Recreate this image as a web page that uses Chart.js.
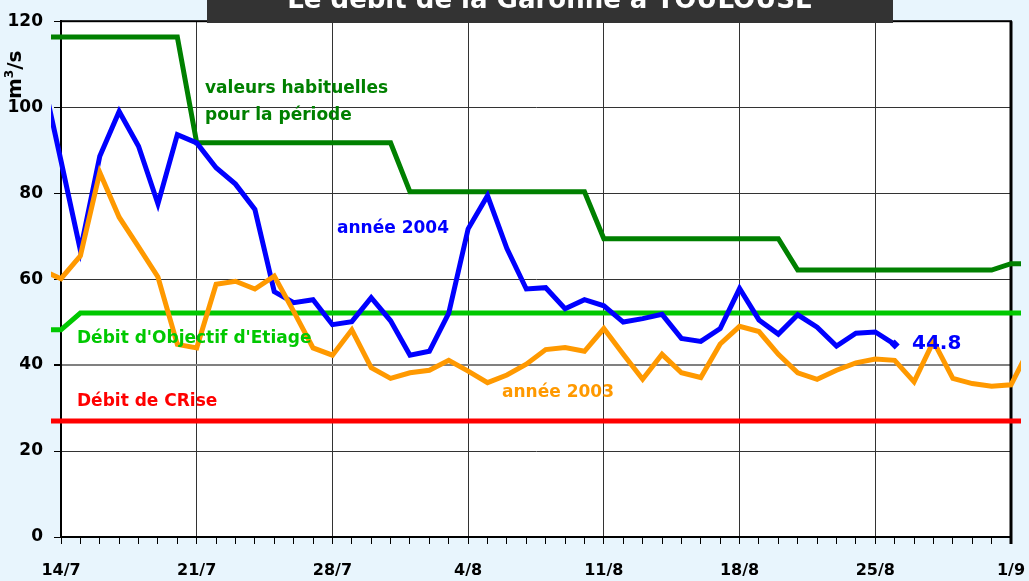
<!DOCTYPE html>
<html>
<head>
<meta charset="utf-8">
<script src="https://cdn.jsdelivr.net/npm/chart.js@4/dist/chart.umd.min.js"></script>
<style>
    html, body { margin: 0; padding: 0; background: #e8f5fd; }
    #garonneChart { display: block; }
</style>
</head>
<body>
<canvas id="garonneChart" width="1029" height="581"></canvas>
<script>
// one label per day, 13/7 and 2/9 only carry the line ends past the frame
const dates = [
    '13/7', '14/7', '15/7', '16/7', '17/7', '18/7', '19/7', '20/7', '21/7', '22/7',
    '23/7', '24/7', '25/7', '26/7', '27/7', '28/7', '29/7', '30/7', '31/7',
    '1/8', '2/8', '3/8', '4/8', '5/8', '6/8', '7/8', '8/8', '9/8', '10/8',
    '11/8', '12/8', '13/8', '14/8', '15/8', '16/8', '17/8', '18/8', '19/8', '20/8',
    '21/8', '22/8', '23/8', '24/8', '25/8', '26/8', '27/8', '28/8', '29/8', '30/8',
    '31/8', '1/9', '2/9'
];

const debit2004 = [
    108.1, 87.5, 66.7, 88.6, 99.0, 90.9, 77.5, 93.6, 91.7, 85.9,
    82.1, 76.2, 57.1, 54.5, 55.2, 49.4, 50.1, 55.7, 50.3,
    42.3, 43.2, 52.1, 71.7, 79.4, 67.1, 57.7, 58.0, 53.1, 55.2,
    53.8, 50.0, 50.8, 51.8, 46.2, 45.5, 48.5, 57.8, 50.5, 47.2,
    51.7, 48.8, 44.4, 47.4, 47.7, 44.8, null, null, null, null,
    null, null, null
];

const debit2003 = [
    62.1, 60.1, 65.4, 84.8, 74.4, 67.5, 60.5, 44.8, 44.0, 58.8,
    59.5, 57.7, 60.7, 52.5, 44.0, 42.3, 48.2, 39.4, 36.9,
    38.2, 38.8, 41.1, 38.6, 35.9, 37.7, 40.2, 43.6, 44.1, 43.2,
    48.5, 42.5, 36.7, 42.5, 38.2, 37.1, 44.9, 49.0, 47.8, 42.5,
    38.2, 36.7, 38.8, 40.5, 41.4, 41.1, 36.1, 45.5, 36.9, 35.7,
    35.1, 35.4, 44.2
];

const valeursHabituelles = [
    116.3, 116.3, 116.3, 116.3, 116.3, 116.3, 116.3, 116.3, 91.7, 91.7,
    91.7, 91.7, 91.7, 91.7, 91.7, 91.7, 91.7, 91.7, 91.7,
    80.3, 80.3, 80.3, 80.3, 80.3, 80.3, 80.3, 80.3, 80.3, 80.3,
    69.4, 69.4, 69.4, 69.4, 69.4, 69.4, 69.4, 69.4, 69.4, 69.4,
    62.1, 62.1, 62.1, 62.1, 62.1, 62.1, 62.1, 62.1, 62.1, 62.1,
    62.1, 63.6, 63.6
];

const objectifEtiage = [
    48.2, 48.2, 52.1, 52.1, 52.1, 52.1, 52.1, 52.1, 52.1, 52.1,
    52.1, 52.1, 52.1, 52.1, 52.1, 52.1, 52.1, 52.1, 52.1,
    52.1, 52.1, 52.1, 52.1, 52.1, 52.1, 52.1, 52.1, 52.1, 52.1,
    52.1, 52.1, 52.1, 52.1, 52.1, 52.1, 52.1, 52.1, 52.1, 52.1,
    52.1, 52.1, 52.1, 52.1, 52.1, 52.1, 52.1, 52.1, 52.1, 52.1,
    52.1, 52.1, 52.1
];

const debitCrise = [
    27, 27, 27, 27, 27, 27, 27, 27, 27, 27,
    27, 27, 27, 27, 27, 27, 27, 27, 27,
    27, 27, 27, 27, 27, 27, 27, 27, 27, 27,
    27, 27, 27, 27, 27, 27, 27, 27, 27, 27,
    27, 27, 27, 27, 27, 27, 27, 27, 27, 27,
    27, 27, 27
];

const yTicks = [0, 20, 40, 60, 80, 100, 120];

const FONT = 'DejaVu Sans';
const firstDay = dates.indexOf('14/7');
const lastDay = dates.indexOf('1/9');
const lastBlue = debit2004.filter(v => v !== null).length - 1;
// lines run half a day past the frame on both sides
const overhang = { left: 10, right: 10, top: 0, bottom: 0 };

const decorPlugin = {
    id: 'decor',
    beforeDraw(chart) {
        const { ctx, chartArea: a } = chart;
        ctx.save();
        ctx.fillStyle = '#e8f5fd';
        ctx.fillRect(0, 0, chart.width, chart.height);
        ctx.fillStyle = '#ffffff';
        ctx.fillRect(a.left, a.top, a.right - a.left, a.bottom - a.top);
        ctx.restore();
    },
    beforeDatasetsDraw(chart) {
        const { ctx, chartArea: a } = chart;
        ctx.save();
        ctx.strokeStyle = '#000';
        ctx.lineWidth = 2;
        ctx.strokeRect(a.left, a.top, a.right - a.left, a.bottom - a.top);
        ctx.lineWidth = 3;
        ctx.beginPath();
        ctx.moveTo(a.right, a.top);
        ctx.lineTo(a.right, a.bottom + 7);
        ctx.stroke();
        ctx.restore();
    },
    afterDatasetsDraw(chart) {
        const ctx = chart.ctx;
        ctx.save();
        ctx.textAlign = 'left';
        ctx.textBaseline = 'alphabetic';
        ctx.font = 'bold 17px ' + FONT;
        ctx.fillStyle = '#008000';
        ctx.fillText('valeurs habituelles', 205, 93);
        ctx.fillText('pour la période', 205, 120);
        ctx.fillStyle = '#0000ff';
        ctx.fillText('année 2004', 337, 233);
        ctx.fillStyle = '#ff9900';
        ctx.fillText('année 2003', 502, 397);
        ctx.fillStyle = '#00c800';
        ctx.fillText("Débit d'Objectif d'Etiage", 77, 343);
        ctx.fillStyle = '#ff0000';
        ctx.fillText('Débit de CRise', 77, 406);
        ctx.font = 'bold 20px ' + FONT;
        ctx.fillStyle = '#0000ff';
        ctx.fillText('44.8', 912, 349);

        // unit, read bottom to top
        ctx.translate(21, 99);
        ctx.rotate(-Math.PI / 2);
        ctx.fillStyle = '#000';
        ctx.font = 'bold 20px ' + FONT;
        ctx.fillText('m', 0, 0);
        let w = ctx.measureText('m').width;
        ctx.font = 'bold 12px ' + FONT;
        ctx.fillText('3', w, -8);
        w += ctx.measureText('3').width;
        ctx.font = 'bold 20px ' + FONT;
        ctx.fillText('/s', w, 0);
        ctx.restore();
    },
    afterDraw(chart) {
        const ctx = chart.ctx;
        ctx.save();
        ctx.fillStyle = '#333333';
        ctx.fillRect(207, 0, 686, 23);
        ctx.fillStyle = '#ffffff';
        ctx.font = 'bold 26px ' + FONT;
        ctx.textAlign = 'center';
        ctx.textBaseline = 'alphabetic';
        ctx.fillText('Le débit de la Garonne à TOULOUSE', 550, 8);
        ctx.restore();
    }
};

function lineSet(label, data, color) {
    return {
        label: label,
        data: data,
        borderColor: color,
        backgroundColor: color,
        borderWidth: 5,
        pointRadius: 0,
        tension: 0,
        clip: overhang,
        spanGaps: false
    };
}

const blueSet = lineSet('année 2004', debit2004, '#0000ff');
blueSet.pointStyle = 'rectRot';
blueSet.pointRadius = ctx => ctx.dataIndex === lastBlue ? 5 : 0;
blueSet.pointBorderWidth = 0;

new Chart(document.getElementById('garonneChart'), {
    type: 'line',
    data: {
        labels: dates,
        datasets: [
            lineSet('année 2003', debit2003, '#ff9900'),
            blueSet,
            lineSet('valeurs habituelles', valeursHabituelles, '#008000'),
            lineSet("Débit d'Objectif d'Etiage", objectifEtiage, '#00c800'),
            lineSet('Débit de CRise', debitCrise, '#ff0000')
        ]
    },
    options: {
        responsive: false,
        animation: false,
        events: [],
        layout: {
            padding: { top: 17, right: 18, left: 0, bottom: 0 }
        },
        plugins: {
            legend: { display: false },
            tooltip: { enabled: false }
        },
        scales: {
            x: {
                type: 'category',
                // range narrowed here (not via min/max) so the end points stay in the path
                afterDataLimits: scale => { scale.min = firstDay; scale.max = lastDay; },
                afterFit: scale => {
                    scale.height = 44;
                    scale.paddingLeft = 0;
                    scale.paddingRight = 0;
                },
                border: { color: '#000', width: 2 },
                grid: {
                    color: ctx => (ctx.index % 7 === 0 && ctx.index > 0 && ctx.index < 49) ? '#333' : 'rgba(0,0,0,0)',
                    lineWidth: 1,
                    tickColor: '#000',
                    tickLength: 7,
                    drawTicks: true
                },
                ticks: {
                    autoSkip: false,
                    maxRotation: 0,
                    padding: 17,
                    color: '#000',
                    font: { family: FONT, size: 16, weight: 'bold' },
                    callback: function (val, index) {
                        return index % 7 === 0 ? this.getLabelForValue(val) : '';
                    }
                }
            },
            y: {
                min: yTicks[0],
                max: yTicks[yTicks.length - 1],
                afterFit: scale => { scale.width = 61; },
                afterBuildTicks: scale => { scale.ticks = yTicks.map(v => ({ value: v })); },
                border: { color: '#000', width: 2 },
                grid: {
                    color: ctx => {
                        const v = ctx.tick ? ctx.tick.value : null;
                        if (v === 0 || v === 120) return 'rgba(0,0,0,0)';
                        return v === 40 ? '#808080' : '#333';
                    },
                    lineWidth: ctx => (ctx.tick && ctx.tick.value === 40) ? 2 : 1,
                    tickColor: '#000',
                    tickLength: 7
                },
                ticks: {
                    padding: 11,
                    color: '#000',
                    font: { family: FONT, size: 17, weight: 'bold' }
                }
            }
        }
    },
    plugins: [decorPlugin]
});
</script>
</body>
</html>
